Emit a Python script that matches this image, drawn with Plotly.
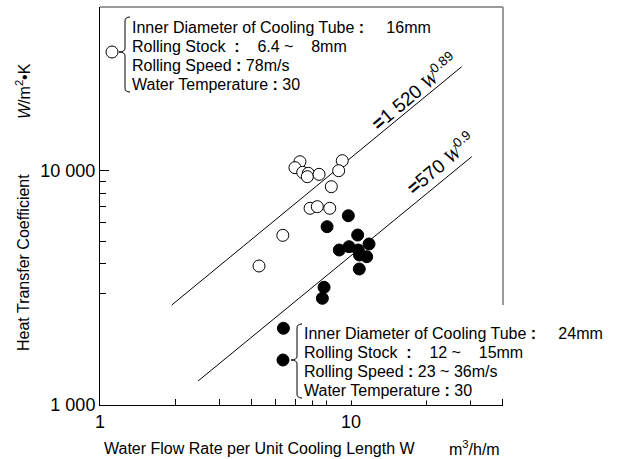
import plotly.graph_objects as go

# ---------------- data ----------------
open_W = [6.26, 5.98, 6.42, 6.76, 6.70, 7.46, 9.23, 8.93, 8.35, 6.87, 7.34, 8.23, 5.35, 4.30]
open_h = [10900, 10280, 9820, 9730, 9410, 9630, 11010, 9980, 8530, 6900, 7010, 6900, 5290, 3915]

filled_W = [9.76, 8.03, 10.63, 8.98, 9.82, 10.69, 11.80, 11.55, 10.81, 10.79, 7.81, 7.69, 5.38]
filled_h = [6415, 5760, 5307, 4581, 4732, 4581, 4860, 4290, 4363, 3802, 3177, 2851, 2124]

# regression lines (end points)
upper_W = [1.93, 27.6]
upper_h = [2667, 27700]
lower_W = [2.46, 30.3]
lower_h = [1266, 11460]

x_tickvals = [1, 10]
x_ticktext = ["1", "10"]
x_minor = [2, 3, 4, 5, 6, 7, 8, 20, 30]
y_tickvals = [1000, 10000]
y_ticktext = ["1 000", "10 000"]
y_minor = [3000, 4000, 5000, 6000, 7000, 8000, 9000]

upper_label = "<b>=</b>1 520 <i><span style='font-family:Liberation Serif'>W</span></i><sup>0.89</sup>"
lower_label = "<b>=</b>570 <i><span style='font-family:Liberation Serif'>W</span></i><sup>0.9</sup>"

NB = "\u00a0"
legend_top = [
    "Inner Diameter of Cooling Tube <b>:</b>" + NB * 5 + "16mm",
    "Rolling Stock" + NB + " <b>:</b>" + NB * 4 + "6.4 ~" + NB * 4 + "8mm",
    "Rolling Speed <b>:</b> 78m/s",
    "Water Temperature <b>:</b> 30",
]
legend_bottom = [
    "Inner Diameter of Cooling Tube <b>:</b>" + NB * 5 + "24mm",
    "Rolling Stock" + NB + " <b>:</b>" + NB * 4 + "12 ~" + NB * 4 + "15mm",
    "Rolling Speed <b>:</b> 23 ~ 36m/s",
    "Water Temperature <b>:</b> 30",
]

FONT = "Liberation Sans, Arial, sans-serif"

# ---------------- layout geometry ----------------
W_, H_ = 620, 459
L, R, T, B = 100, 117, 7, 54
PW, PH = W_ - L - R, H_ - T - B


def px(x):
    return (x - L) / PW


def py(y):
    return (H_ - B - y) / PH


fig = go.Figure()

fig.add_trace(go.Scatter(x=upper_W, y=upper_h, mode="lines",
                         line=dict(color="black", width=1), hoverinfo="skip"))
fig.add_trace(go.Scatter(x=lower_W, y=lower_h, mode="lines",
                         line=dict(color="black", width=1), hoverinfo="skip"))
fig.add_trace(go.Scatter(x=open_W, y=open_h, mode="markers",
                         marker=dict(symbol="circle", size=12, color="white",
                                     line=dict(color="black", width=1))))
fig.add_trace(go.Scatter(x=filled_W, y=filled_h, mode="markers",
                         marker=dict(symbol="circle", size=12, color="black",
                                     line=dict(color="black", width=1))))

fig.update_layout(
    width=W_, height=H_,
    margin=dict(l=L, r=R, t=T, b=B, pad=0),
    paper_bgcolor="white", plot_bgcolor="white",
    showlegend=False,
    font=dict(family=FONT, size=16, color="black"),
    xaxis=dict(type="log", range=[0, 1.6056], showgrid=False, zeroline=False,
               showline=True, linecolor="black", linewidth=1,
               tickmode="array", tickvals=x_tickvals, ticktext=x_ticktext,
               ticks="inside", ticklen=7, tickcolor="black", tickwidth=1,
               tickfont=dict(size=18),
               minor=dict(tickmode="array", tickvals=x_minor, ticks="inside",
                          ticklen=6, tickcolor="black", tickwidth=1, showgrid=False)),
    yaxis=dict(type="log", range=[3, 4.6972], showgrid=False, zeroline=False,
               showline=True, linecolor="black", linewidth=1,
               tickmode="array", tickvals=y_tickvals, ticktext=y_ticktext,
               ticks="inside", ticklen=9, tickcolor="black", tickwidth=1,
               tickfont=dict(size=18),
               minor=dict(tickmode="array", tickvals=y_minor, ticks="inside",
                          ticklen=6, tickcolor="black", tickwidth=1, showgrid=False)),
)

shapes = []
frame_col = "#7a7a7a"
# top and right frame (right interrupted by the lower legend)
shapes.append(dict(type="line", xref="paper", yref="paper", x0=px(100), x1=px(503),
                   y0=py(7), y1=py(7), line=dict(color=frame_col, width=1.5)))
shapes.append(dict(type="line", xref="paper", yref="paper", x0=px(503), x1=px(503),
                   y0=py(7), y1=py(305), line=dict(color=frame_col, width=1.5)))
shapes.append(dict(type="line", xref="paper", yref="paper", x0=px(502.5), x1=px(502.5),
                   y0=py(399), y1=py(405), line=dict(color="black", width=1)))


def brace(xr, xm, xl, y0, ym, y1):
    # curly brace opening to the right: xr = hook end, xm = spine, xl = tip
    c = 4
    pts = [
        f"M {px(xr)},{py(y0)}",
        f"Q {px(xm)},{py(y0)} {px(xm)},{py(y0 + c)}",
        f"L {px(xm)},{py(ym - c)}",
        f"Q {px(xm)},{py(ym)} {px(xl)},{py(ym)}",
        f"Q {px(xm)},{py(ym)} {px(xm)},{py(ym + c)}",
        f"L {px(xm)},{py(y1 - c)}",
        f"Q {px(xm)},{py(y1)} {px(xr)},{py(y1)}",
    ]
    return dict(type="path", xref="paper", yref="paper", path=" ".join(pts),
                line=dict(color="black", width=1))


shapes.append(brace(130, 125, 119, 17, 52, 92))
shapes.append(brace(302, 297, 291, 324, 360, 398))

# legend markers
for (cx, cy, fill) in [(112, 52, "white"), (283, 360, "black")]:
    shapes.append(dict(type="circle", xref="paper", yref="paper",
                       xsizemode="pixel", ysizemode="pixel",
                       xanchor=px(cx), yanchor=py(cy),
                       x0=-6, x1=6, y0=-6, y1=6,
                       fillcolor=fill, line=dict(color="black", width=1)))

fig.update_layout(shapes=shapes)

ann = []


def A(text, x, y, xanchor="left", yanchor="middle", size=16, angle=0, bg=None):
    d = dict(text=text, xref="paper", yref="paper", x=px(x), y=py(y),
             xanchor=xanchor, yanchor=yanchor, showarrow=False,
             font=dict(family=FONT, size=size, color="black"), textangle=angle)
    if bg:
        d["bgcolor"] = bg
    ann.append(d)


# top legend
for i, t in enumerate(legend_top):
    A(t, 130, 27 + 19.2 * i)
# bottom legend (white background)
for i, t in enumerate(legend_bottom):
    A(t, 302, 333 + 19.3 * i, bg="white")

# line labels
A(upper_label, 414, 91, xanchor="center", angle=-40, size=19)
A(lower_label, 440, 163, xanchor="center", angle=-40, size=19)

# axis titles
A("Heat Transfer Coefficient", 23, 263, xanchor="center", angle=-90, size=16)
A("<i>W</i>/m<sup>2</sup>•K", 23, 91, xanchor="center", angle=-90, size=16)
A("Water Flow Rate per Unit Cooling Length W", 102, 448, size=16)
A("m<sup>3</sup>/h/m", 447, 448, size=16)

fig.update_layout(annotations=ann)

fig.write_html("out.html")
